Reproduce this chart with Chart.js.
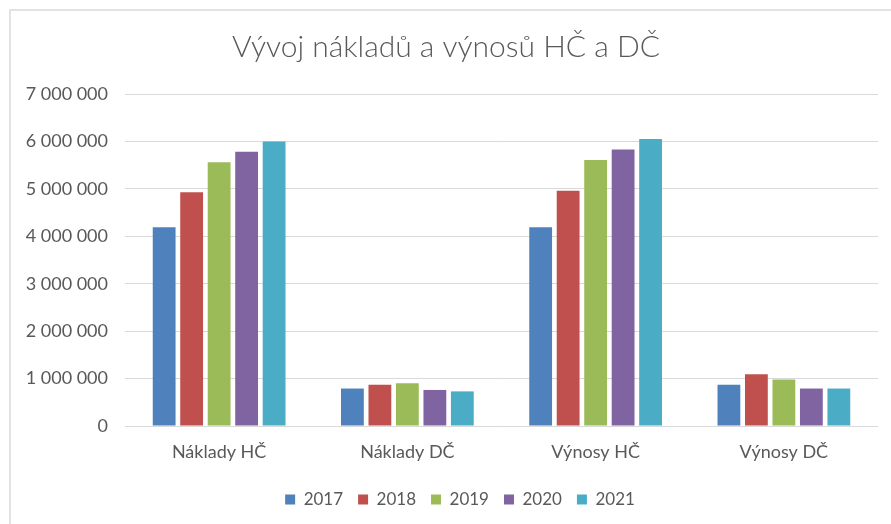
<!DOCTYPE html>
<html lang="cs">
<head>
<meta charset="UTF-8">
<title>Vývoj nákladů a výnosů HČ a DČ</title>
<script src="https://cdn.jsdelivr.net/npm/chart.js@4.4.0/dist/chart.umd.min.js"></script>
<style>
  html, body { margin: 0; padding: 0; background: #ffffff; overflow: hidden; }
  .ramecek {
    position: absolute; left: 9px; top: 9px; width: 900px; height: 530px;
    border-top: 2px solid #e3e3e3; border-left: 2px solid #e3e3e3;
  }
  .graf { position: absolute; left: 0; top: 0; width: 891px; height: 524px; }
</style>
</head>
<body>
<div class="ramecek"></div>
<div class="graf"><canvas id="graf"></canvas></div>
<script>
  // kategorie a hodnoty (Kč)
  const kategorie = ['Náklady HČ', 'Náklady DČ', 'Výnosy HČ', 'Výnosy DČ'];
  const roky = ['2017', '2018', '2019', '2020', '2021'];
  const barvy = ['#4f81bd', '#c0504d', '#9bbb59', '#8064a2', '#4bacc6'];

  const r2017 = [4190000, 790000, 4190000, 870000];
  const r2018 = [4930000, 870000, 4960000, 1090000];
  const r2019 = [5560000, 900000, 5610000, 980000];
  const r2020 = [5780000, 760000, 5830000, 790000];
  const r2021 = [6000000, 730000, 6050000, 790000];
  const hodnoty = [r2017, r2018, r2019, r2020, r2021];

  const pismo = 'Lato, "Open Sans", sans-serif';
  const seda = '#595959';

  // mezery mezi čísly tisíců
  const formatCislo = v => String(v).replace(/\B(?=(\d{3})+(?!\d))/g, ' ');

  // legenda je v originále trochu vpravo od středu
  const posunLegendy = {
    id: 'posunLegendy',
    afterLayout: chart => { chart.legend.left += 28; }
  };

  new Chart(document.getElementById('graf'), {
    type: 'bar',
    data: {
      labels: kategorie,
      datasets: roky.map((rok, i) => ({
        label: rok,
        data: hodnoty[i],
        backgroundColor: barvy[i],
        borderWidth: 0,
        categoryPercentage: 0.73,
        barPercentage: 0.83
      }))
    },
    options: {
      responsive: true,
      maintainAspectRatio: false,
      animation: false,
      layout: { padding: { left: 14, right: 13, top: 29, bottom: 6 } },
      scales: {
        x: {
          grid: { display: false },
          border: { display: false },
          ticks: { color: seda, font: { family: pismo, size: 18 }, padding: 7 },
          afterFit: s => { s.height = 50; }
        },
        y: {
          min: 0,
          max: 7000000,
          ticks: {
            stepSize: 1000000,
            color: seda,
            font: { family: pismo, size: 18 },
            padding: 17,
            callback: v => formatCislo(v)
          },
          grid: { color: '#d9d9d9', drawTicks: false },
          border: { display: false },
          afterFit: s => { s.width = 111; }
        }
      },
      plugins: {
        title: {
          display: true,
          text: 'Vývoj nákladů a výnosů HČ a DČ',
          color: seda,
          font: { family: pismo, size: 30, weight: '300' },
          padding: { top: 0, bottom: 29 }
        },
        legend: {
          position: 'bottom',
          labels: {
            color: seda,
            font: { family: pismo, size: 17 },
            boxWidth: 10,
            boxHeight: 10,
            padding: 15
          }
        },
        tooltip: { enabled: false }
      }
    },
    plugins: [posunLegendy]
  });
</script>
</body>
</html>
